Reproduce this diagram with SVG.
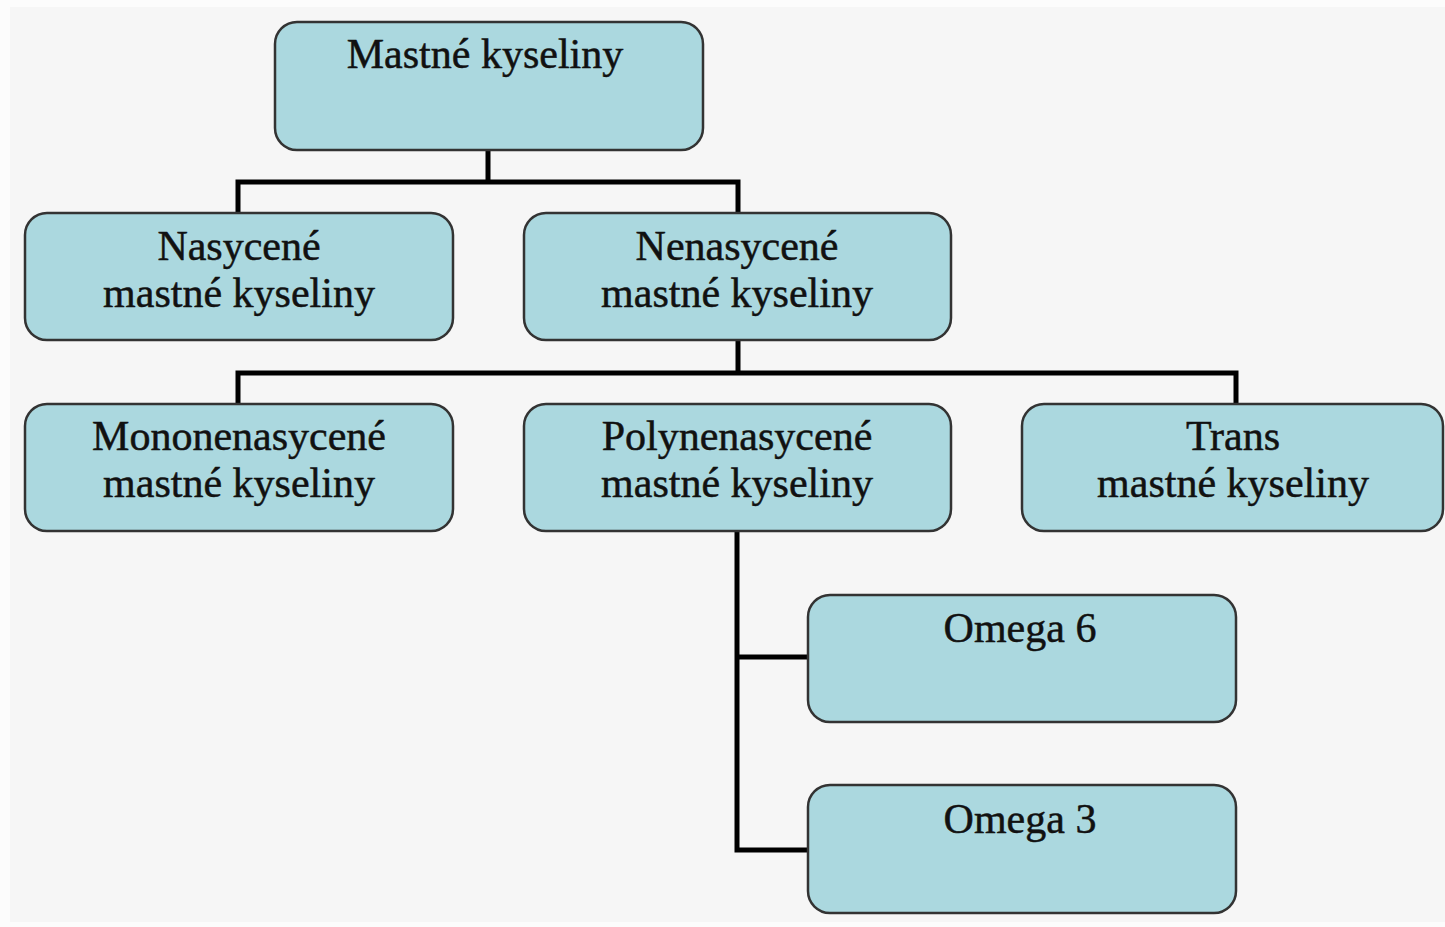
<svg xmlns="http://www.w3.org/2000/svg" width="1445" height="927" viewBox="0 0 1445 927">
<style>
.box{fill:#abd8df;stroke:#333;stroke-width:2.5}
.lbl{font-family:"Liberation Serif","Times New Roman",serif;font-size:42px;fill:#111;stroke:#111;stroke-width:0.5;text-anchor:middle}
.con{fill:none;stroke:#000;stroke-width:5}
</style>
<rect width="1445" height="927" fill="#fcfcfc"/>
<rect x="10" y="7" width="1435" height="915" fill="#f6f6f6"/>
<g id="connectors">
<path class="con" d="M488 150V182M238 213V182H738V213"/>
<path class="con" d="M738 340V373M238 404V373H1236V404"/>
<path class="con" d="M737 530V850H808M737 657H808"/>
</g>
<g id="n-mastne">
<rect class="box" x="275" y="22" width="428" height="128" rx="22"/>
<text class="lbl" x="485" y="68">Mastné kyseliny</text>
</g>
<g id="n-nasycene">
<rect class="box" x="25" y="213" width="428" height="127" rx="22"/>
<text class="lbl" x="239" y="260">Nasycené</text>
<text class="lbl" x="239" y="307">mastné kyseliny</text>
</g>
<g id="n-nenasycene">
<rect class="box" x="524" y="213" width="427" height="127" rx="22"/>
<text class="lbl" x="737" y="260">Nenasycené</text>
<text class="lbl" x="737" y="307">mastné kyseliny</text>
</g>
<g id="n-mono">
<rect class="box" x="25" y="404" width="428" height="127" rx="22"/>
<text class="lbl" x="239" y="450">Mononenasycené</text>
<text class="lbl" x="239" y="497">mastné kyseliny</text>
</g>
<g id="n-poly">
<rect class="box" x="524" y="404" width="427" height="127" rx="22"/>
<text class="lbl" x="737" y="450">Polynenasycené</text>
<text class="lbl" x="737" y="497">mastné kyseliny</text>
</g>
<g id="n-trans">
<rect class="box" x="1022" y="404" width="421" height="127" rx="22"/>
<text class="lbl" x="1233" y="450">Trans</text>
<text class="lbl" x="1233" y="497">mastné kyseliny</text>
</g>
<g id="n-omega6">
<rect class="box" x="808" y="595" width="428" height="127" rx="22"/>
<text class="lbl" x="1020" y="642">Omega 6</text>
</g>
<g id="n-omega3">
<rect class="box" x="808" y="785" width="428" height="128" rx="22"/>
<text class="lbl" x="1020" y="833">Omega 3</text>
</g>
</svg>
